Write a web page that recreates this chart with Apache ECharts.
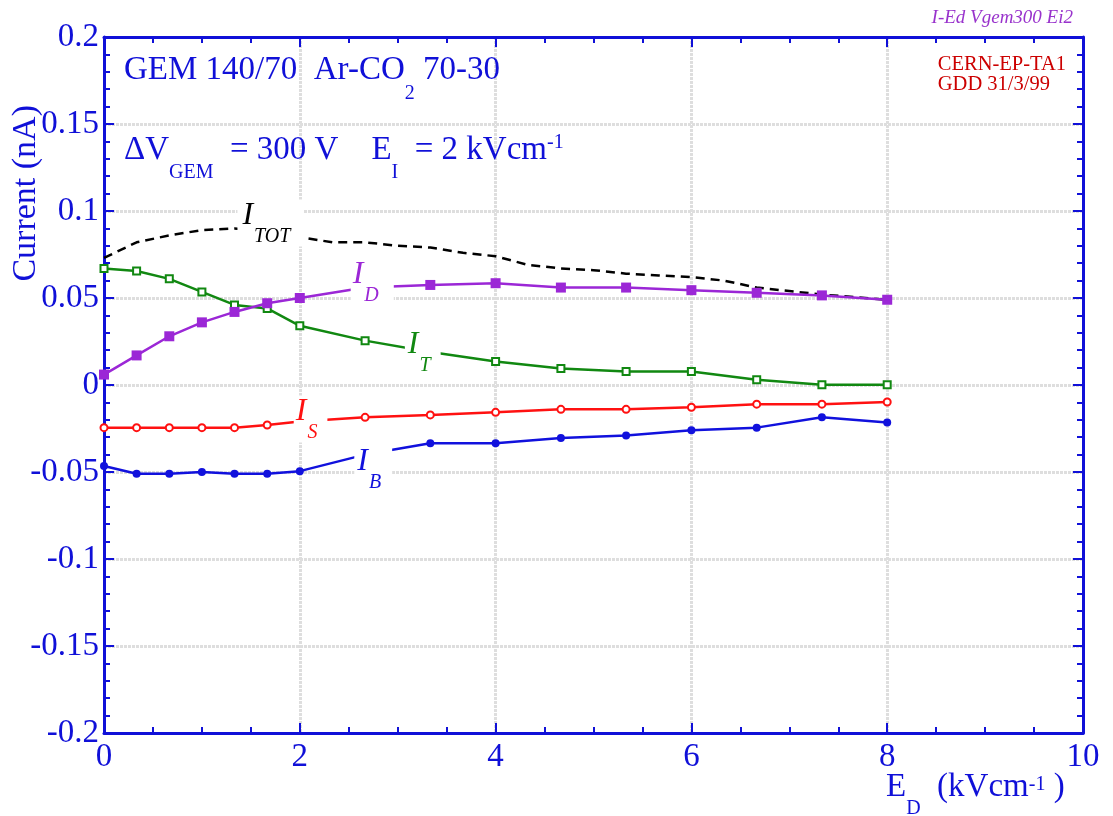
<!DOCTYPE html>
<html>
<head>
<meta charset="utf-8">
<title>I-Ed Vgem300 Ei2</title>
<script src="https://cdn.jsdelivr.net/npm/echarts@6/dist/echarts.min.js"></script>
<style>
  html, body { margin: 0; padding: 0; background: #fff; }
  #chart { width: 1113px; height: 816px; }
</style>
</head>
<body>
<div id="chart"></div>
<script>
// drift field E_D (kV/cm) at the measured points
const edPoints = [0, 0.333, 0.667, 1, 1.333, 1.667, 2, 2.667, 3.333, 4, 4.667, 5.333, 6, 6.667, 7.333, 8]
// currents in nA
const iD = [0.006, 0.017, 0.028, 0.036, 0.042, 0.047, 0.050, 0.056, 0.0575, 0.0585, 0.056, 0.056, 0.0545, 0.053, 0.0515, 0.049]
const iT = [0.067, 0.0655, 0.061, 0.0535, 0.046, 0.044, 0.034, 0.0255, 0.019, 0.0135, 0.0095, 0.0078, 0.0078, 0.003, 0.0002, 0.0002]
const iS = [-0.0245, -0.0245, -0.0245, -0.0245, -0.0245, -0.023, -0.021, -0.0186, -0.0172, -0.0157, -0.014, -0.014, -0.0128, -0.011, -0.011, -0.0098]
const iB = [-0.0465, -0.051, -0.051, -0.050, -0.051, -0.051, -0.0495, -0.040, -0.0335, -0.0335, -0.0305, -0.029, -0.026, -0.0245, -0.0185, -0.0215]
// total current (dashed, no markers)
const edTot = [0, 0.333, 0.667, 1, 1.333, 1.667, 2, 2.333, 2.667, 3, 3.333, 3.667, 4, 4.333, 4.667, 5, 5.333, 5.667, 6, 6.333, 6.667, 7, 7.333, 7.667, 8]
const iTot = [0.073, 0.082, 0.086, 0.089, 0.090, 0.088, 0.085, 0.082, 0.082, 0.080, 0.079, 0.076, 0.074, 0.069, 0.067, 0.066, 0.064, 0.063, 0.062, 0.060, 0.056, 0.054, 0.052, 0.0505, 0.049]

const BLUE = '#1010d8'
const SERIF = '"Liberation Serif", "DejaVu Serif", serif'

const chart = echarts.init(document.getElementById('chart'))

const pairs = (xs, ys) => xs.map((x, i) => [x, ys[i]])

// label like I_D, drawn as a markPoint with a white box that breaks the curve
function curveLabel (sub, coord, color, pad) {
  return {
    symbol: 'rect',
    symbolSize: 0,
    silent: true,
    z: 20,
    data: [{ coord: coord }],
    label: {
      show: true,
      position: 'inside',
      formatter: '{i|I}{s|' + sub + '}',
      backgroundColor: '#fff',
      padding: pad,
      rich: {
        i: { fontSize: 32, lineHeight: 32, verticalAlign: 'top', fontStyle: 'italic', fontFamily: SERIF, color: color },
        s: { fontSize: 20, lineHeight: 47, verticalAlign: 'bottom', fontStyle: 'italic', fontFamily: SERIF, color: color, padding: [28, 0, 0, 1] }
      }
    }
  }
}

function axisCommon (show, split) {
  return {
    type: 'value',
    axisLine: { show: true, onZero: false, lineStyle: { color: BLUE, width: 3 } },
    axisTick: { show: true, inside: true, length: 10, lineStyle: { color: BLUE, width: 2 } },
    minorTick: { show: true, splitNumber: split, length: 6, lineStyle: { color: BLUE, width: 2 } },
    axisLabel: {
      show: show,
      color: BLUE,
      fontSize: 33,
      fontFamily: SERIF
    }
  }
}

const gridLine = { show: true, lineStyle: { color: '#dedede', width: 3, type: [3, 1] } }

const xBottom = axisCommon(true, 4)
xBottom.axisLabel.margin = 8
const yLeft = axisCommon(true, 5)
yLeft.axisLabel.margin = 5
yLeft.axisLabel.padding = [6, 0, 0, 0]

const option = {
  animation: false,
  backgroundColor: '#fff',
  grid: { left: 104, right: 30, top: 37, bottom: 83 },
  xAxis: [
    Object.assign(xBottom, { min: 0, max: 10, interval: 2, position: 'bottom', splitLine: gridLine }),
    Object.assign(axisCommon(false, 4), { min: 0, max: 10, interval: 2, position: 'top', splitLine: { show: false } })
  ],
  yAxis: [
    Object.assign(yLeft, { min: -0.2, max: 0.2, interval: 0.05, position: 'left', splitLine: gridLine }),
    Object.assign(axisCommon(false, 5), { min: -0.2, max: 0.2, interval: 0.05, position: 'right', splitLine: { show: false } })
  ],
  series: [
    {
      name: 'I_TOT',
      type: 'line',
      data: pairs(edTot, iTot),
      showSymbol: false,
      lineStyle: { color: '#000', width: 2.5, type: [9, 6] },
      markPoint: curveLabel('TOT', [1.70, 0.0931], '#000', [0, 13, 0, 5]),
      z: 3
    },
    {
      name: 'I_T',
      type: 'line',
      data: pairs(edPoints, iT),
      symbol: 'rect',
      symbolSize: 7,
      itemStyle: { color: '#fff', borderColor: '#118811', borderWidth: 2 },
      lineStyle: { color: '#118811', width: 2.5 },
      markPoint: curveLabel('T', [3.256, 0.019], '#118811', [0, 10, 0, 3]),
      z: 4
    },
    {
      name: 'I_D',
      type: 'line',
      data: pairs(edPoints, iD),
      symbol: 'rect',
      symbolSize: 10,
      itemStyle: { color: '#9b27d6' },
      lineStyle: { color: '#9b27d6', width: 2.5 },
      markPoint: curveLabel('D', [2.74, 0.0592], '#9b27d6', [0, 15, 0, 2]),
      z: 5
    },
    {
      name: 'I_S',
      type: 'line',
      data: pairs(edPoints, iS),
      symbol: 'circle',
      symbolSize: 7,
      itemStyle: { color: '#fff', borderColor: '#ff1111', borderWidth: 2 },
      lineStyle: { color: '#ff1111', width: 2.5 },
      markPoint: curveLabel('S', [2.11, -0.0195], '#ff1111', [0, 10, 0, 2]),
      z: 4
    },
    {
      name: 'I_B',
      type: 'line',
      data: pairs(edPoints, iB),
      symbol: 'circle',
      symbolSize: 8,
      itemStyle: { color: '#1111dd' },
      lineStyle: { color: '#1111dd', width: 2.5 },
      markPoint: curveLabel('B', [2.75, -0.0483], '#1111dd', [0, 11, 0, 3]),
      z: 4
    }
  ],
  graphic: [
    {
      type: 'text', left: 124, top: 54, z: 10,
      style: {
        text: '{a|GEM 140/70  Ar-CO}{s|2}{a| 70-30}',
        rich: {
          a: { fontSize: 33, fontFamily: SERIF, fill: BLUE },
          s: { fontSize: 20, fontFamily: SERIF, fill: BLUE, padding: [46, 0, 0, 0] }
        }
      }
    },
    {
      type: 'text', left: 124, top: 133, z: 10,
      style: {
        text: '{a|\u0394V}{s|GEM}{a|  = 300 V    E}{s|I}{a|  = 2 kVcm}{p|-1}',
        rich: {
          a: { fontSize: 33, fontFamily: SERIF, fill: BLUE },
          s: { fontSize: 20, fontFamily: SERIF, fill: BLUE, padding: [46, 0, 0, 0] },
          p: { fontSize: 20, fontFamily: SERIF, fill: BLUE, padding: [0, 0, 14, 0] }
        }
      }
    },
    {
      type: 'text', right: 40, top: 8, z: 10,
      style: { text: 'I-Ed Vgem300 Ei2', fontSize: 19, fontStyle: 'italic', fontFamily: SERIF, fill: '#9933cc' }
    },
    {
      type: 'text', right: 47, top: 54, z: 10,
      style: {
        text: 'CERN-EP-TA1\nGDD 31/3/99',
        fontSize: 20.5, lineHeight: 20, align: 'center', fontFamily: SERIF, fill: '#cc0000'
      }
    },
    {
      type: 'text', left: 9, top: 105, z: 10, rotation: Math.PI / 2,
      style: { text: 'Current (nA)', fontSize: 34, fontFamily: SERIF, fill: BLUE }
    },
    {
      type: 'text', left: 886, top: 771, z: 10,
      style: {
        text: '{a|E}{s|D}{a|  (kVcm}{p|-1}{a| )}',
        rich: {
          a: { fontSize: 33, fontFamily: SERIF, fill: BLUE },
          s: { fontSize: 20, fontFamily: SERIF, fill: BLUE, padding: [42, 0, 0, 0] },
          p: { fontSize: 20, fontFamily: SERIF, fill: BLUE, padding: [0, 0, 6, 0] }
        }
      }
    }
  ]
}

chart.setOption(option)
</script>
</body>
</html>
